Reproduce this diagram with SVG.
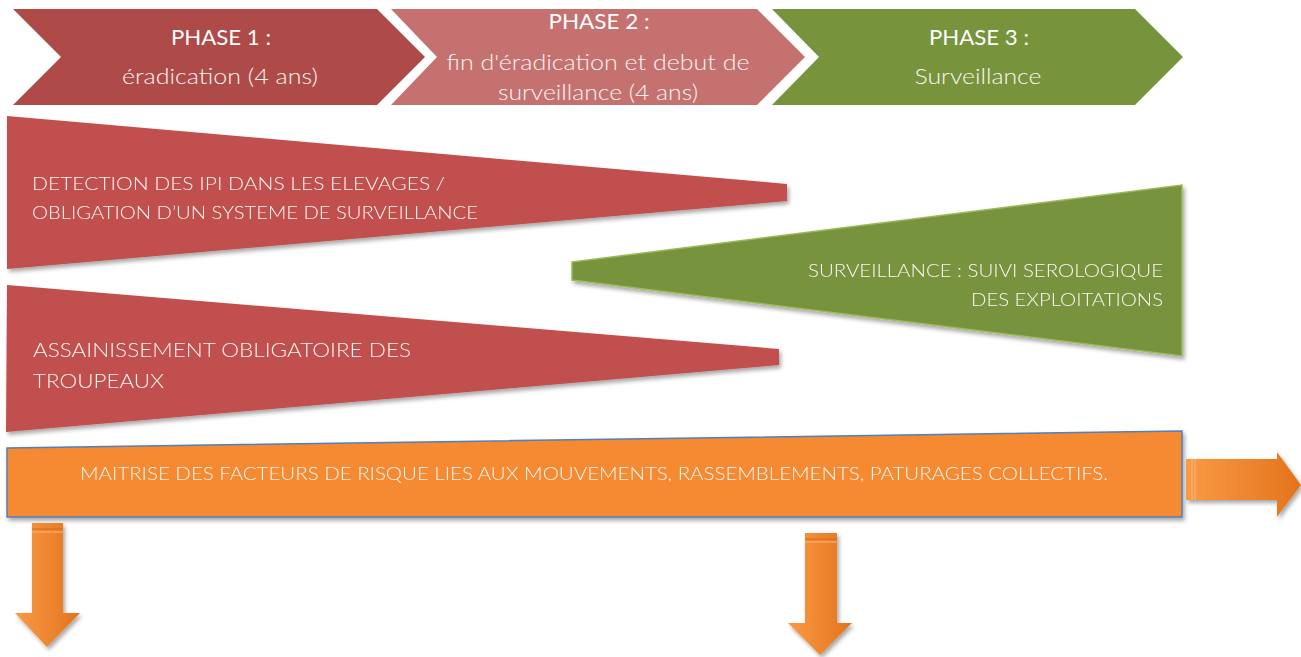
<svg xmlns="http://www.w3.org/2000/svg" width="1301" height="657" viewBox="0 0 1301 657">
<defs>
<filter id="sh" x="-5%" y="-10%" width="112%" height="130%">
<feGaussianBlur in="SourceAlpha" stdDeviation="2"/>
<feOffset dx="2" dy="3" result="b"/>
<feComponentTransfer><feFuncA type="linear" slope="0.35"/></feComponentTransfer>
<feMerge><feMergeNode/><feMergeNode in="SourceGraphic"/></feMerge>
</filter>
<linearGradient id="ah" x1="0" y1="0" x2="1" y2="0">
<stop offset="0" stop-color="#F99A45"/><stop offset="1" stop-color="#E4731C"/>
</linearGradient>
<linearGradient id="av" x1="0" y1="0" x2="1" y2="0">
<stop offset="0" stop-color="#F99A45"/><stop offset="1" stop-color="#E4731C"/>
</linearGradient>
</defs>
<style>
text{font-family:Lato,"Open Sans","Liberation Sans",sans-serif;fill:#FDF6F4;font-weight:300}
.t{font-size:21px;text-anchor:middle}
.h{font-size:22px;text-anchor:middle;font-weight:400;fill:#ffffff}
.w{font-size:17px}
.red{fill:#C0504D}
</style>
<rect width="1301" height="657" fill="#ffffff"/>

<g id="phase1">
<polygon points="13,9 377,9 425,57 377,105 13,105 61,57" fill="#AE4A47"/>
<text class="h" x="221" y="45" textLength="100" lengthAdjust="spacingAndGlyphs">PHASE 1 :</text>
<text class="t" x="220" y="84" textLength="196" lengthAdjust="spacingAndGlyphs">éradication (4 ans)</text>
</g>
<g id="phase2">
<polygon points="391,9 757,9 805,57 757,105 391,105 437,57" fill="#C47170"/>
<text class="h" x="599" y="29" textLength="101" lengthAdjust="spacingAndGlyphs">PHASE 2 :</text>
<text class="t" x="598" y="70" textLength="303" lengthAdjust="spacingAndGlyphs">fin d'éradication et debut de</text>
<text class="t" x="598" y="100" textLength="200" lengthAdjust="spacingAndGlyphs">surveillance (4 ans)</text>
</g>
<g id="phase3">
<polygon points="772,9 1135,9 1183,57 1135,105 772,105 819,57" fill="#77933C"/>
<text class="h" x="979" y="45" textLength="100" lengthAdjust="spacingAndGlyphs">PHASE 3 :</text>
<text class="t" x="978" y="84" textLength="127" lengthAdjust="spacingAndGlyphs">Surveillance</text>
</g>

<g id="detection" filter="url(#sh)">
<polygon class="red" points="7,116 787,184 787,201 7,269"/>
<text class="w" x="32" y="190" textLength="413" lengthAdjust="spacingAndGlyphs">DETECTION DES IPI DANS LES ELEVAGES /</text>
<text class="w" x="32" y="219" textLength="446" lengthAdjust="spacingAndGlyphs">OBLIGATION D’UN SYSTEME DE SURVEILLANCE</text>
</g>
<g id="surveillance" filter="url(#sh)">
<polygon points="572,262 1182,185 1182,356 572,280" fill="#77933C" stroke="#9BBB59" stroke-width="1.5"/>
<text class="w" x="1163" y="277" text-anchor="end" textLength="355" lengthAdjust="spacingAndGlyphs">SURVEILLANCE : SUIVI SEROLOGIQUE</text>
<text class="w" x="1163" y="306" text-anchor="end" textLength="192" lengthAdjust="spacingAndGlyphs">DES EXPLOITATIONS</text>
</g>
<g id="assainissement" filter="url(#sh)">
<polygon class="red" points="7,285 779,349 779,365 6,432"/>
<text x="33" y="357" font-size="19" textLength="378" lengthAdjust="spacingAndGlyphs">ASSAINISSEMENT OBLIGATOIRE DES</text>
<text x="33" y="388" font-size="19" textLength="131" lengthAdjust="spacingAndGlyphs">TROUPEAUX</text>
</g>
<g id="maitrise" filter="url(#sh)">
<polygon points="7,448 1182,431 1182,517 7,517" fill="#F58A30" stroke="#4F81BD" stroke-width="1.5"/>
<text class="w" x="80" y="480" textLength="1028" lengthAdjust="spacingAndGlyphs">MAITRISE DES FACTEURS DE RISQUE LIES AUX MOUVEMENTS, RASSEMBLEMENTS, PATURAGES COLLECTIFS.</text>
</g>

<g id="connectors" filter="url(#sh)">
<g id="arrow-right">
<polygon points="1186,459 1277,459 1277,452 1301,485 1277,517 1277,500 1186,500" fill="url(#ah)"/>
<line x1="1192" y1="459" x2="1192" y2="500" stroke="#FBB67A" stroke-width="1.2"/>
<line x1="1195" y1="459" x2="1195" y2="500" stroke="#FBB67A" stroke-width="1"/>
</g>
<g id="arrow-down-1">
<polygon points="32,523 63,523 63,613 80,613 47,647 15,613 32,613" fill="url(#av)"/>
<line x1="32" y1="529" x2="63" y2="529" stroke="#D9671A" stroke-width="1"/>
<line x1="32" y1="532" x2="63" y2="532" stroke="#FBB67A" stroke-width="1"/>
</g>
<g id="arrow-down-2">
<polygon points="805,533 837,533 837,623 852,623 820,655 788,623 805,623" fill="url(#av)"/>
<line x1="805" y1="539" x2="837" y2="539" stroke="#D9671A" stroke-width="1"/>
<line x1="805" y1="542" x2="837" y2="542" stroke="#FBB67A" stroke-width="1"/>
</g>
</g>
</svg>
